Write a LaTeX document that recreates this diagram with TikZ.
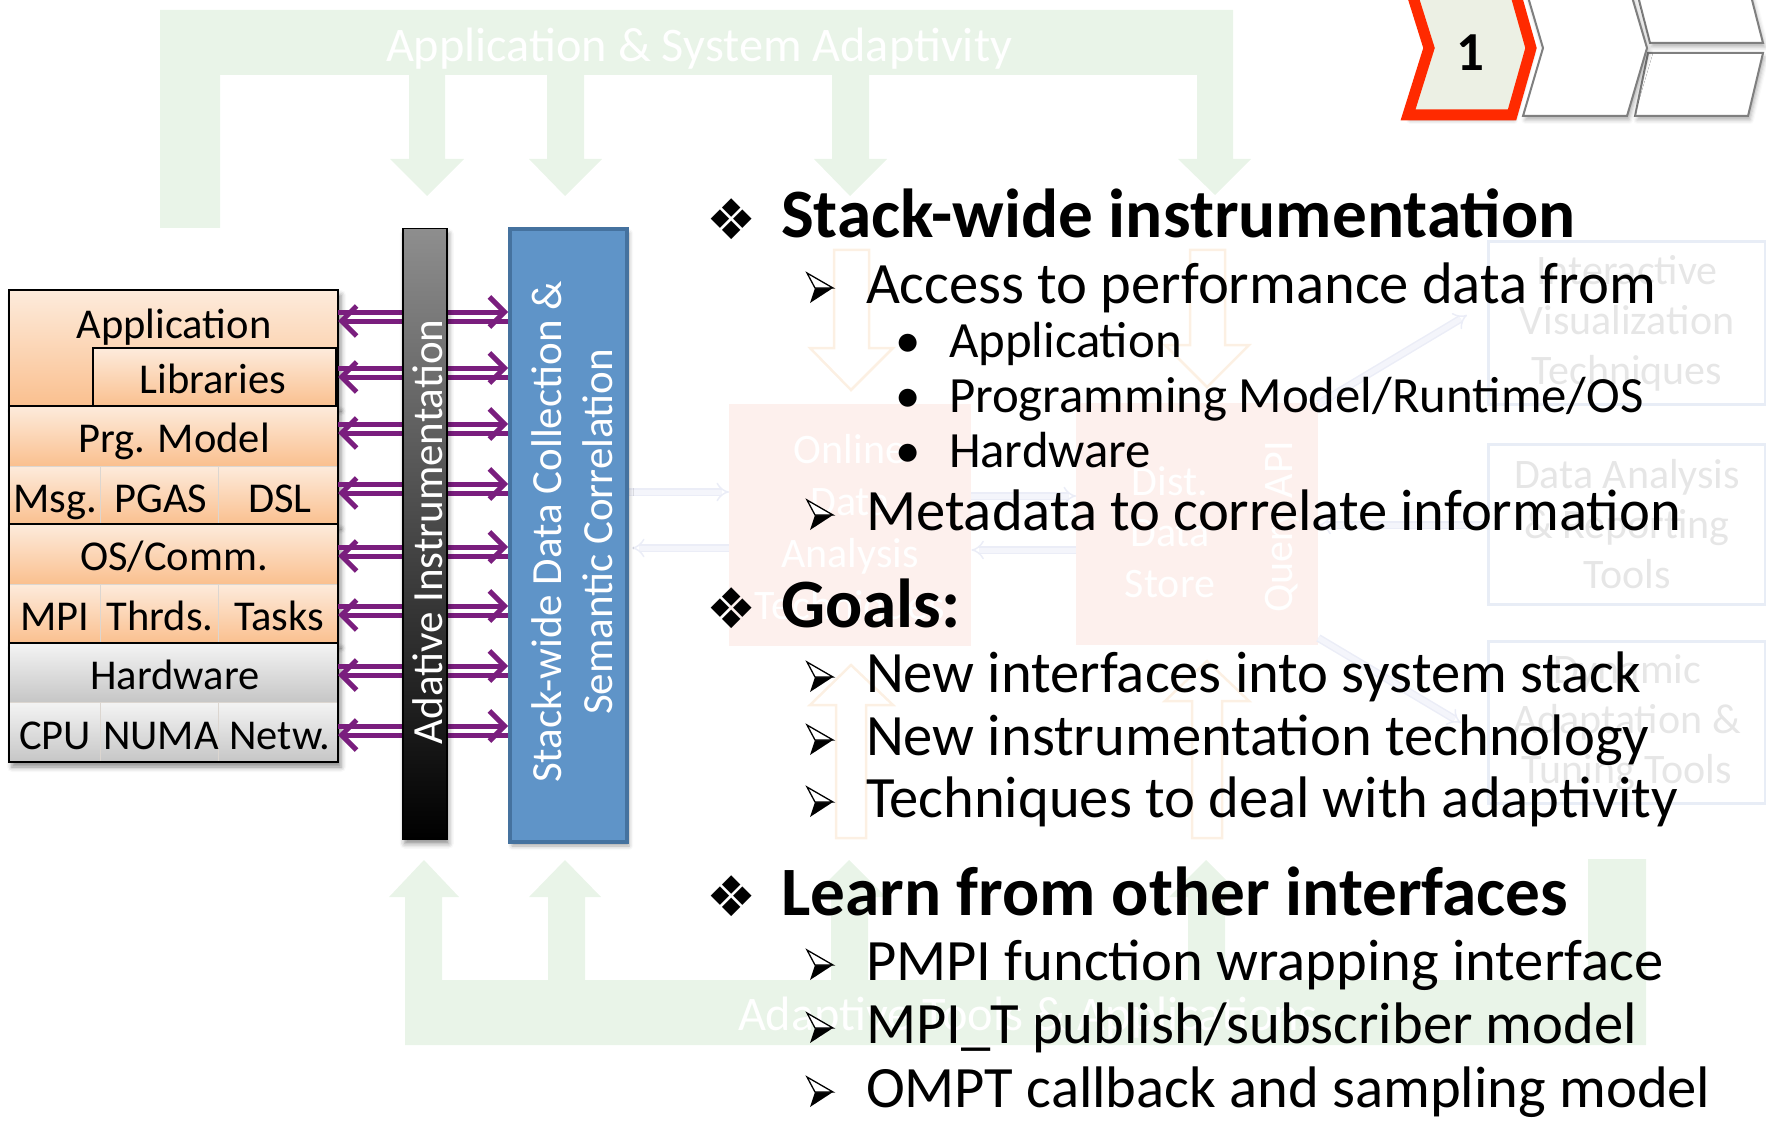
\documentclass[tikz,border=0pt]{standalone}
\usepackage{fontspec}
\setmainfont{Carlito}
\newfontfamily\symfont{DejaVu Sans}
\usetikzlibrary{arrows.meta,shadows.blur}

\definecolor{frameGreen}{HTML}{E9F4E8}
\definecolor{linkPurple}{HTML}{7A1E7E}
\definecolor{boxBlue}{HTML}{5F94C8}
\definecolor{boxBlueEdge}{HTML}{45729F}
\definecolor{peachTop}{HTML}{FDEBDC}
\definecolor{peachBot}{HTML}{FAC08F}
\definecolor{grayTop}{HTML}{F4F4F4}
\definecolor{grayBot}{HTML}{C6C6C6}
\definecolor{cellLine}{HTML}{DCD6D0}
\definecolor{barTop}{HTML}{8E8E8E}
\definecolor{fadedPink}{HTML}{FDF0ED}
\definecolor{fadedEdge}{HTML}{E8EDF6}
\definecolor{fadedText}{HTML}{E6E6E6}
\definecolor{fadedLav}{HTML}{F4F5FB}
\definecolor{fadedLavEdge}{HTML}{EBEDF7}
\definecolor{fadedPeach}{HTML}{FCF0E3}
\definecolor{stepRed}{HTML}{FF2A00}
\definecolor{stepFill}{HTML}{ECF0E4}
\definecolor{stepGray}{HTML}{7F7F7F}

\newcommand{\fsz}[1]{\fontsize{#1}{#1}\selectfont}

\begin{document}
\begin{tikzpicture}[x=1pt,y=-1pt,
  txt/.style={inner sep=0pt, outer sep=0pt},
  stk/.style={txt, font=\fsz{42.5}, anchor=base},
  cellP/.style={draw=cellLine, line width=1pt, top color=peachTop, bottom color=peachBot,
                inner sep=0pt, outer sep=0pt, anchor=north west},
  cellG/.style={cellP, top color=grayTop, bottom color=grayBot},
  blockEdge/.style={draw=black, line width=2.5pt},
  blockShade/.style={fill=white, inner sep=0pt, outer sep=0pt, anchor=north west,
                blur shadow={shadow xshift=3pt, shadow yshift=-5pt, shadow blur radius=5pt, shadow opacity=45}},
  link/.style={draw=linkPurple, line width=5pt, -{Straight Barb[length=15pt,width=30pt]}},
  headline/.style={txt, anchor=base west, font=\bfseries\fsz{69.3}},
  pointA/.style={txt, anchor=base west, font=\fsz{58.6}},
  pointB/.style={txt, anchor=base west, font=\fsz{50.8}},
  diamondmark/.style={txt, anchor=center, font=\symfont\fsz{56}},
  dotmark/.style={txt, anchor=base, font=\fsz{50.8}},
  ghostpink/.style={fill=fadedPink, inner sep=0pt, anchor=north west},
  ghostframe/.style={draw=fadedEdge, line width=3pt, inner sep=0pt, anchor=north west},
  ghosttext/.style={txt, align=center, text=fadedText, font=\fontsize{42}{50}\selectfont},
  ghostlink/.style={draw=fadedLavEdge, double=fadedLav, double distance=5pt, line width=1.5pt,
                -{Implies[]}},
  ghostblock/.style={draw=fadedPeach, line width=2.5pt},
  stepGhost/.style={draw=stepGray, line width=2pt, fill=white,
                blur shadow={shadow xshift=2pt, shadow yshift=-4pt, shadow blur radius=4pt, shadow opacity=30}},
  pics/arrowbullet/.style={code={
    \fill[black] (-5,0) -- (13,0) -- (-10,15) -- cycle;
    \filldraw[fill=white, draw=black, line width=1.3pt, line join=miter] (-13,-15) -- (13,0) -- (-5,0) -- cycle;
  }}
]
\useasboundingbox (0,0) rectangle (1766,1123);

% ---------- adaptivity loop (top) ----------
\fill[frameGreen] (160,10) -- (1233,10) -- (1233,159) -- (1251,159) -- (1215,195) -- (1178,159)
  -- (1197,159) -- (1197,75) -- (869,75) -- (869,159) -- (887,159) -- (850,196) -- (814,159)
  -- (832,159) -- (832,75) -- (584,75) -- (584,159) -- (602,159) -- (565,196) -- (529,159)
  -- (547,159) -- (547,75) -- (445,75) -- (445,159) -- (464,159) -- (427,196) -- (390,159)
  -- (409,159) -- (409,75) -- (220,75) -- (220,228) -- (160,228) -- cycle;
\node[txt, anchor=base west, font=\fsz{48.3}, text=white] (looptop) at (386,62) {Application \& System Adaptivity};

% ---------- adaptivity loop (bottom) ----------
\fill[frameGreen] (405,1045) -- (1646,1045) -- (1646,859) -- (1588,859) -- (1588,980)
  -- (1225,980) -- (1225,897) -- (1243,897) -- (1206,860) -- (1169,897) -- (1188,897) -- (1188,980)
  -- (868,980) -- (868,897) -- (886,897) -- (849,860) -- (812,897) -- (831,897) -- (831,980)
  -- (585,980) -- (585,897) -- (601,897) -- (565,860) -- (529,897) -- (548,897) -- (548,980)
  -- (442,980) -- (442,897) -- (459,897) -- (424,860) -- (389,897) -- (405,897) -- cycle;
\node[txt, anchor=base west, font=\fsz{48.3}, text=white] (loopbot) at (738,1030) {Adaptive Tools \& Applications};

% ---------- faded analysis pipeline ----------
\draw[ghostblock] (834,250) -- (869,250) -- (869,348) -- (893,348) -- (851,390) -- (810,348) -- (834,348) -- cycle;
\draw[ghostblock] (1190,250) -- (1225,250) -- (1225,345) -- (1249,345) -- (1207,387) -- (1165,345) -- (1190,345) -- cycle;
\draw[ghostblock] (836,838) -- (866,838) -- (866,705) -- (893,705) -- (851,665) -- (810,705) -- (836,705) -- cycle;
\draw[ghostblock] (1192,838) -- (1222,838) -- (1222,701) -- (1249,701) -- (1207,661) -- (1165,701) -- (1192,701) -- cycle;

\node[ghostpink, minimum width=242pt, minimum height=242pt] (online) at (729,404) {};
\node[ghostpink, minimum width=242pt, minimum height=242pt] (store) at (1076,403) {};
\node[txt, align=center, text=white, font=\fontsize{42}{52}\selectfont] (onlinetxt) at (850,530)
  {Online\\Data\\Analysis\\Techniques};
\node[txt, align=center, text=white, font=\fontsize{42}{51}\selectfont] (storetxt) at (1170,532)
  {Dist.\\Data\\Store};
\node[txt, rotate=90, text=white, font=\fsz{42}] (querytxt) at (1282,527) {Query API};

\node[ghostframe, minimum width=277pt, minimum height=163pt] (vis) at (1487,240) {};
\node[ghostframe, minimum width=277pt, minimum height=160pt] (report) at (1487,443) {};
\node[ghostframe, minimum width=277pt, minimum height=162pt] (tuning) at (1487,640) {};
\node[ghosttext] (vistxt) at (vis.center) {Interactive\\Visualization\\Techniques};
\node[ghosttext] (reporttxt) at (report.center) {Data Analysis\\\& Reporting\\Tools};
\node[ghosttext] (tuningtxt) at (tuning.center) {Dynamic\\Adaptation \&\\Tuning Tools};

\draw[ghostlink] (628,492) -- (online.west |- 0,492);
\draw[ghostlink] (online.west |- 0,548) -- (632,548);
\draw[ghostlink] (online.east |- 0,496) -- (store.west |- 0,496);
\draw[ghostlink] (store.west |- 0,550) -- (online.east |- 0,550);
\draw[ghostlink] (store.east |- 0,404) -- (1467,315);
\draw[ghostlink] (report.west |- 0,525) -- (store.east |- 0,525);
\draw[ghostlink] (store.east |- 0,638) -- (1461,723);

% ---------- software / hardware stack ----------
\node[blockShade, minimum width=329pt, minimum height=116pt] (appblock) at (9,290) {};
\node[cellP, minimum width=329pt, minimum height=116pt] (appcell) at (9,290) {};
\node[cellP, draw=black, line width=2pt, minimum width=243pt, minimum height=58pt] (libcell) at (93,348) {};
\draw[blockEdge] (appblock.north west) rectangle (appblock.south east);
\node[stk] (apptxt) at (174,338) {Application};
\node[stk] (libtxt) at (213,393) {Libraries};

\node[blockShade, minimum width=329pt, minimum height=118pt] (prgblock) at (9,406) {};
\node[cellP, minimum width=329pt, minimum height=60pt] (prgcell) at (9,406) {};
\node[cellP, minimum width=91pt, minimum height=58pt] (msgcell) at (9,466) {};
\node[cellP, minimum width=118pt, minimum height=58pt] (pgascell) at (100,466) {};
\node[cellP, minimum width=120pt, minimum height=58pt] (dslcell) at (218,466) {};
\draw[blockEdge] (prgblock.north west) rectangle (prgblock.south east);
\node[stk] (prgtxt) at (174,452) {Prg. Model};
\node[stk] (msgtxt) at (55,512) {Msg.};
\node[stk] (pgastxt) at (161,512) {PGAS};
\node[stk] (dsltxt) at (280,512) {DSL};

\node[blockShade, minimum width=329pt, minimum height=119pt] (osblock) at (9,524) {};
\node[cellP, minimum width=329pt, minimum height=60pt] (oscell) at (9,524) {};
\node[cellP, minimum width=91pt, minimum height=59pt] (mpicell) at (9,584) {};
\node[cellP, minimum width=118pt, minimum height=59pt] (thrdcell) at (100,584) {};
\node[cellP, minimum width=120pt, minimum height=59pt] (taskcell) at (218,584) {};
\draw[blockEdge] (osblock.north west) rectangle (osblock.south east);
\node[stk] (ostxt) at (174,570) {OS/Comm.};
\node[stk] (mpitxt) at (55,630) {MPI};
\node[stk] (thrdtxt) at (160,630) {Thrds.};
\node[stk] (tasktxt) at (279,630) {Tasks};

\node[blockShade, minimum width=329pt, minimum height=119pt] (hwblock) at (9,643) {};
\node[cellG, minimum width=329pt, minimum height=59pt] (hwcell) at (9,643) {};
\node[cellG, minimum width=91pt, minimum height=60pt] (cpucell) at (9,702) {};
\node[cellG, minimum width=118pt, minimum height=60pt] (numacell) at (100,702) {};
\node[cellG, minimum width=120pt, minimum height=60pt] (netcell) at (218,702) {};
\draw[blockEdge] (hwblock.north west) rectangle (hwblock.south east);
\node[stk] (hwtxt) at (175,689) {Hardware};
\node[stk] (cputxt) at (55,749) {CPU};
\node[stk] (numatxt) at (161,749) {NUMA};
\node[stk] (nettxt) at (280,749) {Netw.};

% ---------- data collection box ----------
\node[anchor=north west, inner sep=0pt, minimum width=117pt, minimum height=613pt,
      fill=boxBlue, draw=boxBlueEdge, line width=4pt,
      blur shadow={shadow xshift=2pt, shadow yshift=-4pt, shadow blur radius=4pt, shadow opacity=35}]
      (collect) at (508,227) {};

% ---------- instrumentation links ----------
\foreach \ya/\yb in {312/321, 368/377, 424/433, 484/493, 547/556, 606/615, 666/675, 726/735} {
  \draw[link] (appblock.east |- 0,\ya) -- (collect.west |- 0,\ya);
  \draw[link] (collect.west |- 0,\yb) -- (appblock.east |- 0,\yb);
}

% ---------- instrumentation bar ----------
\node[anchor=north west, inner sep=0pt, minimum width=44pt, minimum height=610pt,
      top color=barTop, bottom color=black, draw=black, line width=1.5pt,
      blur shadow={shadow xshift=2pt, shadow yshift=-5pt, shadow blur radius=5pt, shadow opacity=45}]
      (instr) at (402,228) {};
\node[txt, rotate=90, text=white, font=\fsz{43}] (instrtxt) at (428,532) {Adative Instrumentation};
\node[txt, rotate=90, text=white, align=center, font=\fontsize{43}{51}\selectfont] (collecttxt) at (572,532)
  {Stack-wide Data Collection \&\\Semantic Correlation};

% ---------- bullet list ----------
\node[diamondmark] (m1) at (732,219) {❖};
\node[headline] (t1) at (781,238) {Stack-wide instrumentation};
\pic at (820,288) {arrowbullet};
\node[pointA] (t11) at (866,303) {Access to performance data from};
\node[dotmark] (m111) at (908,357) {•};
\node[pointB] (t111) at (949,357) {Application};
\node[dotmark] (m112) at (908,412) {•};
\node[pointB] (t112) at (949,412) {Programming Model/Runtime/OS};
\node[dotmark] (m113) at (908,467) {•};
\node[pointB] (t113) at (949,467) {Hardware};
\pic at (820,515) {arrowbullet};
\node[pointA] (t12) at (866,530) {Metadata to correlate information};

\node[diamondmark] (m2) at (732,608) {❖};
\node[headline] (t2) at (781,627) {Goals:};
\pic at (820,677) {arrowbullet};
\node[pointA] (t21) at (866,692) {New interfaces into system stack};
\pic at (820,740) {arrowbullet};
\node[pointA] (t22) at (866,755) {New instrumentation technology};
\pic at (820,802) {arrowbullet};
\node[pointA] (t23) at (866,817) {Techniques to deal with adaptivity};

\node[diamondmark] (m3) at (732,896) {❖};
\node[headline] (t3) at (781,915) {Learn from other interfaces};
\pic at (820,965) {arrowbullet};
\node[pointA] (t31) at (866,980) {PMPI function wrapping interface};
\pic at (820,1028) {arrowbullet};
\node[pointA] (t32) at (866,1043) {MPI\_T publish/subscriber model};
\pic at (820,1092) {arrowbullet};
\node[pointA] (t33) at (866,1107) {OMPT callback and sampling model};

% ---------- step indicator ----------
\draw[stepGhost] (1638,-4) -- (1751,-4) -- (1763,43) -- (1650,43) -- cycle;
\draw[stepGhost] (1648,53) -- (1763,53) -- (1748,116) -- (1635,116) -- cycle;
\draw[stepGhost] (1523,116) -- (1543,48) -- (1523,-20) -- (1627,-20) -- (1647,48) -- (1627,116) -- cycle;
\draw[draw=stepRed, line width=11pt, fill=stepFill, miter limit=10,
      blur shadow={shadow xshift=2pt, shadow yshift=-5pt, shadow blur radius=4pt, shadow opacity=35}]
  (1408,115) -- (1429,48) -- (1408,-19) -- (1512,-19) -- (1531,48) -- (1512,115) -- cycle;
\node[txt, font=\bfseries\fsz{55}] (stepno) at (1470,53) {1};
\end{tikzpicture}
\end{document}
